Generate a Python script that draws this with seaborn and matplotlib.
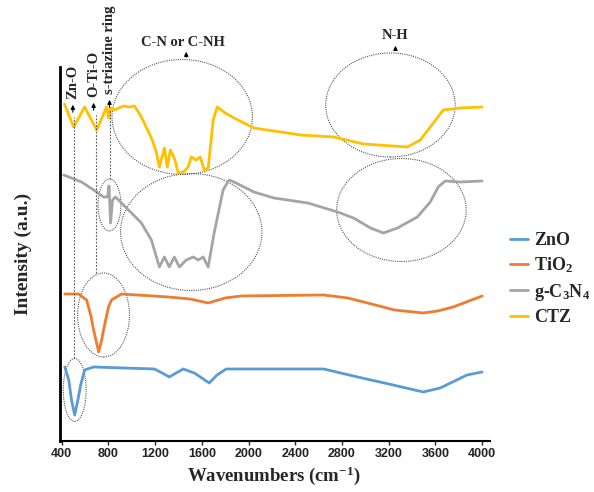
import pandas as pd
import matplotlib.pyplot as plt
import seaborn as sns
from matplotlib.patches import Ellipse

# FTIR spectra (wavenumber, offset intensity in a.u.)
zno_wn = [426, 460, 485, 511, 540, 562, 596, 673, 1193, 1260, 1321, 1380, 1441, 1535,
          1600, 1663, 1730, 1808, 2643, 2934, 3200, 3496, 3641, 3871, 4000]
zno_int = [74, 61, 40, 26, 42, 56, 71, 74, 72, 68, 64, 68, 72, 68,
           63, 58, 66, 72, 72, 64, 57, 49, 53, 66, 69]

tio2_wn = [426, 545, 613, 650, 673, 716, 740, 758, 800, 826, 912, 1313, 1500, 1654,
           1800, 1935, 2643, 2850, 3019, 3250, 3496, 3620, 3752, 4000]
tio2_int = [147, 147, 141, 125, 111, 89, 100, 111, 134, 141, 147, 144, 142, 138,
            143, 145, 146, 143, 138, 131, 128, 130, 134, 145]

gcn_wn = [417, 570, 699, 758, 792, 805, 818, 835, 861, 912, 1082, 1168, 1236, 1279,
          1321, 1364, 1407, 1466, 1526, 1569, 1611, 1654, 1705, 1782, 1833, 1876,
          2046, 2217, 2507, 2763, 2899, 3044, 3155, 3275, 3445, 3556, 3624, 3684,
          3812, 4000]
gcn_int = [266, 259, 249, 244, 244, 255, 218, 241, 244, 238, 218, 201, 174, 184,
           174, 184, 174, 181, 184, 181, 184, 174, 208, 251, 261, 259,
           249, 243, 238, 229, 223, 213, 208, 213, 224, 239, 254, 260,
           259, 260]

ctz_wn = [423, 502, 596, 699, 784, 801, 818, 852, 929, 980, 1023, 1082, 1168, 1210,
          1236, 1279, 1304, 1330, 1364, 1398, 1441, 1483, 1509, 1552, 1586, 1620,
          1654, 1697, 1731, 1800, 1876, 2046, 2447, 2729, 2985, 3360, 3471, 3582, 3667,
          3812, 4000]
ctz_int = [337, 314, 334, 311, 334, 323, 333, 331, 335, 334, 335, 324, 303, 289,
           274, 293, 274, 291, 283, 268, 269, 274, 284, 281, 284, 271,
           273, 321, 334, 328, 323, 313, 306, 304, 297, 294, 301, 318, 331,
           333, 334]

names = ["ZnO", "TiO$_2$", "g-C$_3$N$_4$", "CTZ"]
colors = ["#5B9BD5", "#ED7D31", "#A5A5A5", "#FFC000"]

frames = []
for name, wn, inten in zip(names, [zno_wn, tio2_wn, gcn_wn, ctz_wn],
                           [zno_int, tio2_int, gcn_int, ctz_int]):
    frames.append(pd.DataFrame({"wn": wn, "intensity": inten, "sample": name}))
df = pd.concat(frames, ignore_index=True)

sns.set_style("white")
plt.rcParams["font.family"] = ["Liberation Serif", "DejaVu Serif"]
plt.rcParams["mathtext.fontset"] = "custom"
plt.rcParams["mathtext.rm"] = "Liberation Serif:bold"
plt.rcParams["mathtext.it"] = "Liberation Serif:bold"
plt.rcParams["mathtext.bf"] = "Liberation Serif:bold"
plt.rcParams["lines.solid_joinstyle"] = "round"
plt.rcParams["lines.solid_capstyle"] = "round"

fig = plt.figure(figsize=(5.94, 4.92), dpi=100)
ax = fig.add_axes([0.101, 0.1037, 0.724, 0.7601])

sns.lineplot(data=df, x="wn", y="intensity", hue="sample", hue_order=names,
             palette=colors, sort=False, estimator=None, linewidth=2.0, ax=ax)

ax.set_xlim(385, 4068)
ax.set_ylim(0, 374)
ax.set_xticks(range(400, 4001, 400))
ax.set_yticks([])
ax.set_xlabel("")
ax.set_ylabel("")
for lbl in ax.get_xticklabels():
    lbl.set_fontfamily("Liberation Sans")
    lbl.set_fontsize(9)
    lbl.set_fontweight("bold")
    lbl.set_color("#222222")
ax.tick_params(axis="x", direction="out", length=3, width=1, pad=2, bottom=True)
for side in ["top", "right"]:
    ax.spines[side].set_visible(False)
ax.spines["left"].set_linewidth(2.0)
ax.spines["bottom"].set_linewidth(1.5)
ax.spines["left"].set_color("black")
ax.spines["bottom"].set_color("black")

# dotted ellipses around the bands
ell_style = dict(fill=False, edgecolor="#555555", linestyle=(0, (1, 1)), linewidth=0.8)
ellipses = [(511, 51, 196, 63), (758, 126, 444, 84), (809, 236, 196, 52),
            (1509, 209, 1211, 117), (1432, 324, 1203, 115),
            (3215, 336, 1109, 104), (3309, 231, 1109, 103)]
for cx, cy, w, h in ellipses:
    ax.add_patch(Ellipse((cx, cy), w, h, clip_on=False, **ell_style))

# dotted guide lines
for x, y0, y1 in [(502, 83, 324), (690, 168, 326), (809, 262, 331)]:
    ax.plot([x, x], [y0, y1], color="#555555", linestyle=(0, (1.5, 1.5)), linewidth=0.8)

arrow = dict(arrowstyle="-|>", color="black", lw=0.8, mutation_scale=6)
# vertical labels
for x, ya, yb, txt in [(495, 326, 339, "Zn-O"), (673, 328, 341, "O-Ti-O"),
                       (809, 331, 344, "s-triazine ring")]:
    ax.annotate("", xy=(x, yb), xytext=(x, ya), arrowprops=arrow, annotation_clip=False)
    ax.text(x, yb + 3, txt, rotation=90, ha="center", va="bottom", fontsize=10.5,
            fontweight="bold", clip_on=False)

ax.annotate("", xy=(1466, 392), xytext=(1466, 381), arrowprops=arrow, annotation_clip=False)
ax.text(1441, 399, "C-N or C-NH", ha="center", va="center", fontsize=10.5,
        fontweight="bold", clip_on=False)
ax.annotate("", xy=(3258, 398), xytext=(3258, 388), arrowprops=arrow, annotation_clip=False)
ax.text(3258, 406, "N-H", ha="center", va="center", fontsize=10.5,
        fontweight="bold", clip_on=False)

fig.text(23 / 594, 1 - 254 / 492, "Intensity (a.u.)", rotation=90, ha="center",
         va="center", fontsize=14, fontweight="bold")
fig.text(274 / 594, 1 - 476 / 492, "Wavenumbers (cm$^{-1}$)", ha="center",
         va="center", fontsize=13.5, fontweight="bold")

ax.get_legend().remove()
handles, labels = ax.get_legend_handles_labels()
leg = fig.legend(handles, names, loc="upper left", bbox_to_anchor=(0.858, 0.528),
                 frameon=False, handlelength=1.0, handletextpad=0.35,
                 labelspacing=0.35, borderpad=0, borderaxespad=0,
                 prop={"weight": "bold", "size": 13})

fig.savefig("out.png", dpi=100)
